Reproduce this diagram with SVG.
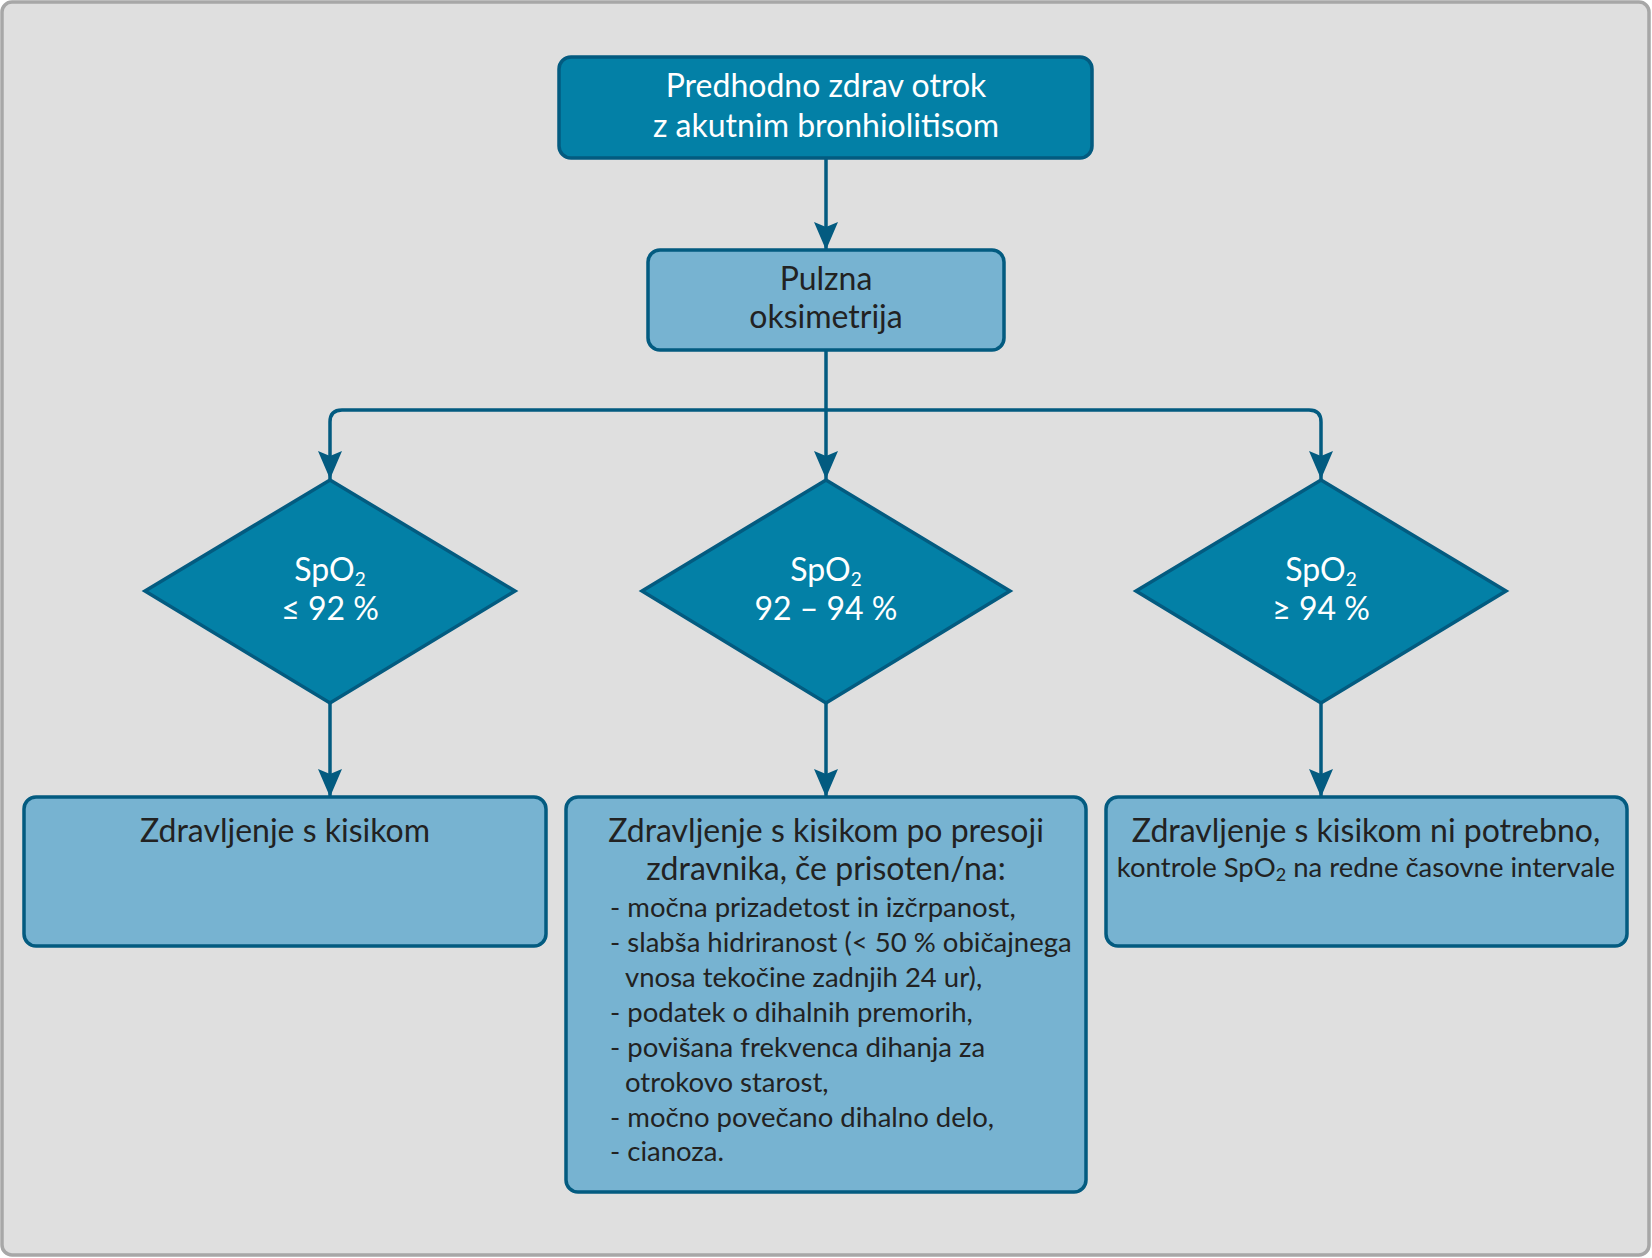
<svg xmlns="http://www.w3.org/2000/svg" width="1652" height="1258" viewBox="0 0 1652 1258">
<style>
.frame{fill:#dfdfdf;stroke:#a7a7a7;stroke-width:3.5}
.dark{fill:#0380a6;stroke:#035b80;stroke-width:3.5}
.light{fill:#77b3d1;stroke:#035b80;stroke-width:3.5}
.conn{fill:none;stroke:#035b80;stroke-width:3.5}
text{font-family:"Lato","Liberation Sans",sans-serif}
.tw{fill:#ffffff;font-size:32px;text-anchor:middle}
.tb{fill:#222222;font-size:32px;text-anchor:middle}
.ts{fill:#222222;font-size:27.5px}
.sub{font-size:19px}
</style>
<defs>
<marker id="arr" markerUnits="userSpaceOnUse" markerWidth="28" markerHeight="24" refX="28" refY="12" orient="auto" viewBox="0 0 28 24">
<path d="M0,0 L28,12 L0,24 L5,12 Z" fill="#035b80"/>
</marker>
</defs>
<rect class="frame" x="2" y="2" width="1647" height="1253" rx="10"/>
<g id="connectors">
<path class="conn" d="M826,158 V250" marker-end="url(#arr)"/>
<path class="conn" d="M826,350 V479" marker-end="url(#arr)"/>
<path class="conn" d="M826,410 H342 Q330,410 330,422 V479" marker-end="url(#arr)"/>
<path class="conn" d="M826,410 H1309 Q1321,410 1321,422 V479" marker-end="url(#arr)"/>
<path class="conn" d="M330,703 V797" marker-end="url(#arr)"/>
<path class="conn" d="M826,703 V797" marker-end="url(#arr)"/>
<path class="conn" d="M1321,703 V797" marker-end="url(#arr)"/>
</g>
<g id="start">
<rect class="dark" x="559" y="57" width="533" height="101" rx="12"/>
<text class="tw" x="826" y="97">Predhodno zdrav otrok</text>
<text class="tw" x="826" y="137">z akutnim bronhiolitisom</text>
</g>
<g id="oximetry">
<rect class="light" x="648" y="250" width="356" height="100" rx="12"/>
<text class="tb" x="826" y="290">Pulzna</text>
<text class="tb" x="826" y="328">oksimetrija</text>
</g>
<g id="d-low">
<polygon class="dark" points="330,480 515,591 330,703 145,591"/>
<text class="tw" x="330" y="581">SpO<tspan class="sub" dy="5">2</tspan></text>
<text class="tw" x="330" y="620">≤ 92 %</text>
</g>
<g id="d-mid">
<polygon class="dark" points="826,480 1010,591 826,703 642,591"/>
<text class="tw" x="826" y="581">SpO<tspan class="sub" dy="5">2</tspan></text>
<text class="tw" x="826" y="620">92 – 94 %</text>
</g>
<g id="d-high">
<polygon class="dark" points="1321,480 1506,591 1321,703 1136,591"/>
<text class="tw" x="1321" y="581">SpO<tspan class="sub" dy="5">2</tspan></text>
<text class="tw" x="1321" y="620">≥ 94 %</text>
</g>
<g id="b-low">
<rect class="light" x="24" y="797" width="522" height="149" rx="12"/>
<text class="tb" x="285" y="842">Zdravljenje s kisikom</text>
</g>
<g id="b-mid">
<rect class="light" x="566" y="797" width="520" height="395" rx="12"/>
<text class="tb" x="826" y="842">Zdravljenje s kisikom po presoji</text>
<text class="tb" x="826" y="880">zdravnika, če prisoten/na:</text>
<text class="ts" x="610" y="917">- močna prizadetost in izčrpanost,</text>
<text class="ts" x="610" y="952">- slabša hidriranost (&lt; 50 % običajnega</text>
<text class="ts" x="625" y="987">vnosa tekočine zadnjih 24 ur),</text>
<text class="ts" x="610" y="1022">- podatek o dihalnih premorih,</text>
<text class="ts" x="610" y="1057">- povišana frekvenca dihanja za</text>
<text class="ts" x="625" y="1092">otrokovo starost,</text>
<text class="ts" x="610" y="1127">- močno povečano dihalno delo,</text>
<text class="ts" x="610" y="1161">- cianoza.</text>
</g>
<g id="b-high">
<rect class="light" x="1106" y="797" width="521" height="149" rx="12"/>
<text class="tb" x="1366" y="842">Zdravljenje s kisikom ni potrebno,</text>
<text class="tb" x="1366" y="877" style="font-size:27.5px">kontrole SpO<tspan class="sub" style="font-size:18px" dy="4">2</tspan><tspan dy="-4"> na redne časovne intervale</tspan></text>
</g>
</svg>
